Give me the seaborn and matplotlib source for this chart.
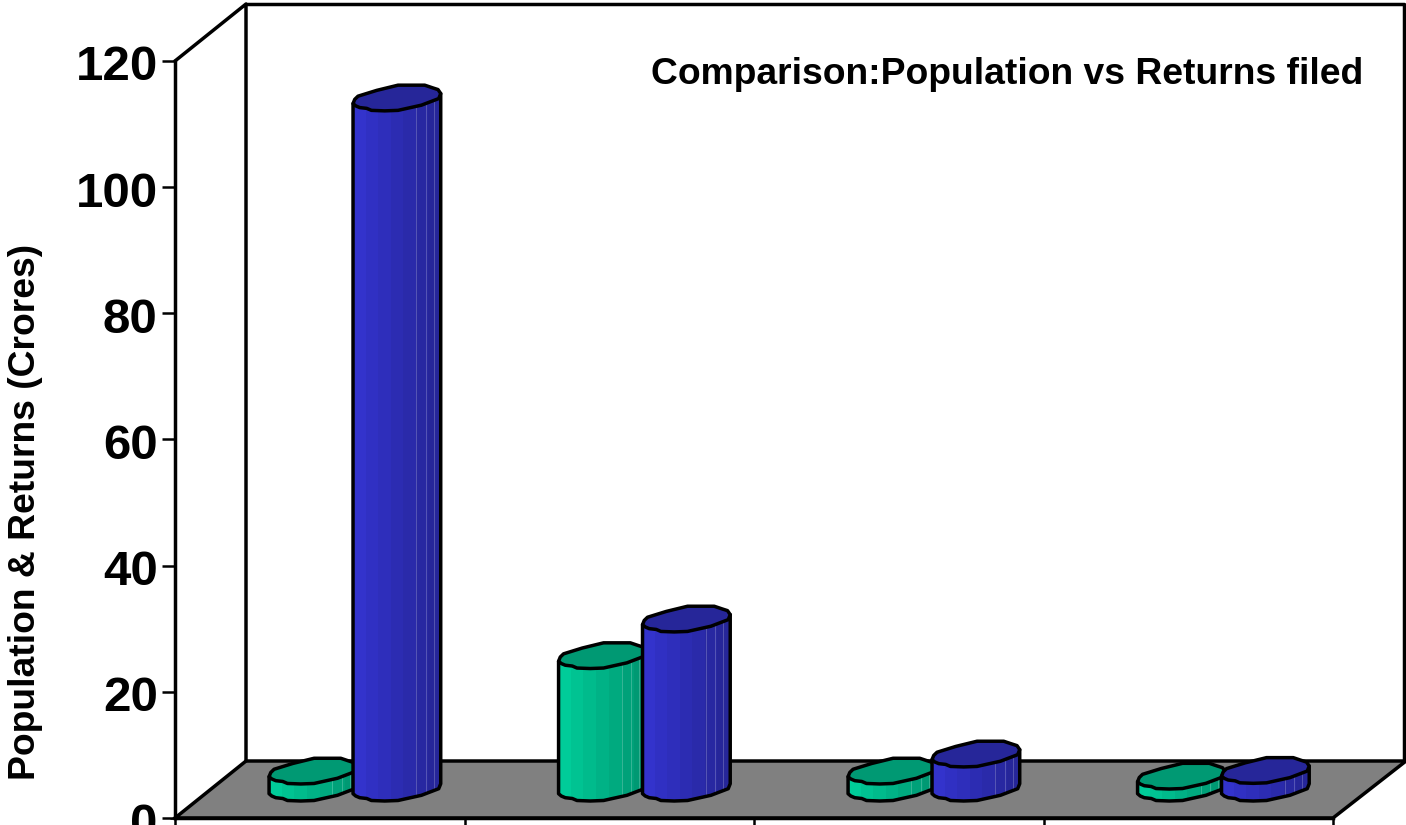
import numpy as np
import pandas as pd
import matplotlib
matplotlib.use("Agg")
import matplotlib.pyplot as plt
import seaborn as sns
from matplotlib.patches import Polygon
from matplotlib.colors import to_rgb
from matplotlib.transforms import ScaledTranslation

categories = ["Group 1", "Group 2", "Group 3", "Group 4"]
returns_filed = [2.7, 21.0, 2.7, 1.9]
population = [109.4, 26.8, 5.4, 2.8]
y_ticks = [0, 20, 40, 60, 80, 100, 120]
title_text = "Comparison:Population vs Returns filed"
y_label = "Population & Returns (Crores)"

W, H = 1406, 825
L, R, T, B = 175, 1333, 61, 818
LW = 2.5

sns.set_theme(style="white")
plt.rcParams["font.family"] = ["Liberation Sans", "DejaVu Sans"]
plt.rcParams["font.weight"] = "bold"

df = pd.DataFrame({
    "cat": categories * 2,
    "series": ["Returns"] * 4 + ["Population"] * 4,
    "value": returns_filed + population,
})

fig = plt.figure(figsize=(W / 100, H / 100), dpi=100, facecolor="white")
ax = fig.add_axes([L / W, 1 - B / H, (R - L) / W, (B - T) / H])
styles = {"Returns": dict(light="#00CC99", dark="#009973", cap="#009973"),
          "Population": dict(light="#3333CC", dark="#262699", cap="#262699")}
sns.barplot(data=df, x="cat", y="value", hue="series", ax=ax, width=0.58, gap=0,
            palette={k: v["light"] for k, v in styles.items()},
            hue_order=["Returns", "Population"], legend=False, zorder=3)
ax.set_xlim(-0.5, 3.5)
ax.set_ylim(0, 120)
sx = 4 / (R - L)
sy = 120 / (B - T)

# back wall and floor
dx, dy = 71 * sx, 57 * sy
right_edge = 3.5 + 73 * sx
floor = Polygon([(-0.5, 0), (-0.5 + dx, dy), (right_edge, dy), (3.5, 0)], closed=True,
                facecolor="#808080", edgecolor="black", lw=LW, clip_on=False, zorder=1)
ax.add_patch(floor)
ax.plot([-0.5, -0.5 + dx, -0.5 + dx], [120, 120 + dy, dy], color="black", lw=LW,
        clip_on=False, zorder=1.5)
ax.plot([-0.5 + dx, right_edge - 2 * sx, right_edge - 2 * sx], [120 + dy, 120 + dy, dy],
        color="black", lw=LW, clip_on=False, zorder=1.5)

# sheared cap outline (pixels from centre, y down)
upper = [(-43.7, 5.7), (-42, 1.5), (-38.7, -1.7), (-20, -7.5), (1.3, -12.7), (28, -12.7),
         (36, -10), (41.3, -8.3), (44, -4.3)]
lower = [(42, 0.7), (24.7, 7.3), (8, 11), (1.3, 12.5), (-12, 13), (-25.3, 12.5), (-30, 10.5),
         (-37, 9.7), (-41, 8)]
outline = np.array(upper + lower, float)
front = np.array([upper[-1]] + lower + [upper[0]], float)[::-1]


def blend(a, b, t):
    return (1 - t) * np.array(to_rgb(a)) + t * np.array(to_rgb(b))


ox, oy = 35 * sx, 30 * sy
z = 4.0
items = []
for container, name in zip(ax.containers, ["Returns", "Population"]):
    for rect in container:
        rect.set_x(rect.get_x() + ox)
        rect.set_y(oy)
        items.append((rect, styles[name]))
items.sort(key=lambda it: it[0].get_x())

for rect, st in items:
    cx = rect.get_x() + rect.get_width() / 2
    base, top = rect.get_y(), rect.get_y() + rect.get_height()
    px = front[:, 0] * sx
    py = -front[:, 1] * sy
    body_xy = [(cx + px[0], top + py[0])] + [(cx + a, base + b) for a, b in zip(px, py)] + \
              [(cx + px[-1], top + py[-1])]
    body = Polygon(body_xy, closed=True, facecolor="none", edgecolor="none", zorder=z)
    ax.add_patch(body)
    n = 14
    shade = np.array([[blend(st["light"], st["dark"], np.floor(i / 2) / (n / 2 - 1)) for i in range(n)]])
    y0 = base - 20 * sy
    y1 = top + 20 * sy
    im = ax.imshow(shade, extent=(cx - 44 * sx, cx + 44 * sx, y0, y1), aspect="auto",
                   interpolation="nearest", zorder=z + 0.1)
    im.set_clip_path(body)
    for frac in (0.72, 0.83, 0.92):
        xl = cx - 44 * sx + frac * 88 * sx
        ln, = ax.plot([xl, xl], [y0, y1], color="white", lw=0.7, alpha=0.22, zorder=z + 0.2)
        ln.set_clip_path(body)
    edge = Polygon(body_xy, closed=True, facecolor="none", edgecolor="black", lw=LW,
                   joinstyle="round", clip_on=False, zorder=z + 0.3)
    ax.add_patch(edge)
    cap_xy = np.column_stack([cx + outline[:, 0] * sx, top - outline[:, 1] * sy])
    cap = Polygon(cap_xy, closed=True, facecolor=st["cap"], edgecolor="black", lw=LW,
                  joinstyle="round", clip_on=False, zorder=z + 0.4)
    ax.add_patch(cap)
    z += 1

ax.set_xlim(-0.5, 3.5)
ax.set_ylim(0, 120)
ax.set_xticks(np.arange(-0.5, 3.6, 1))
ax.set_xticklabels([])
ax.set_yticks(y_ticks)
ax.set_yticklabels([str(v) for v in y_ticks], fontsize=35.5, fontweight="bold", color="black")
ax.tick_params(axis="y", length=9.5, width=1.8, color="black", pad=3, left=True)
ax.tick_params(axis="x", length=9.5, width=1.8, color="black", bottom=True)
shift = ScaledTranslation(0, -2 / 100, fig.dpi_scale_trans)
for lab in ax.get_yticklabels():
    lab.set_transform(lab.get_transform() + shift)
ax.set_xlabel("")
ax.set_ylabel("")
for s in ("top", "right"):
    ax.spines[s].set_visible(False)
for s in ("left", "bottom"):
    ax.spines[s].set_visible(True)
    ax.spines[s].set_linewidth(LW)
    ax.spines[s].set_color("black")
    ax.spines[s].set_zorder(2)
ax.patch.set_alpha(0)

fig.text(1007 / W, 1 - 74 / H, title_text, fontsize=26.8, fontweight="bold", color="black",
         ha="center", va="center")
fig.text(26 / W, 1 - 512 / H, y_label, fontsize=26.8, fontweight="bold", color="black",
         rotation=90, ha="center", va="center")

fig.savefig("out.png", dpi=100, facecolor="white")
